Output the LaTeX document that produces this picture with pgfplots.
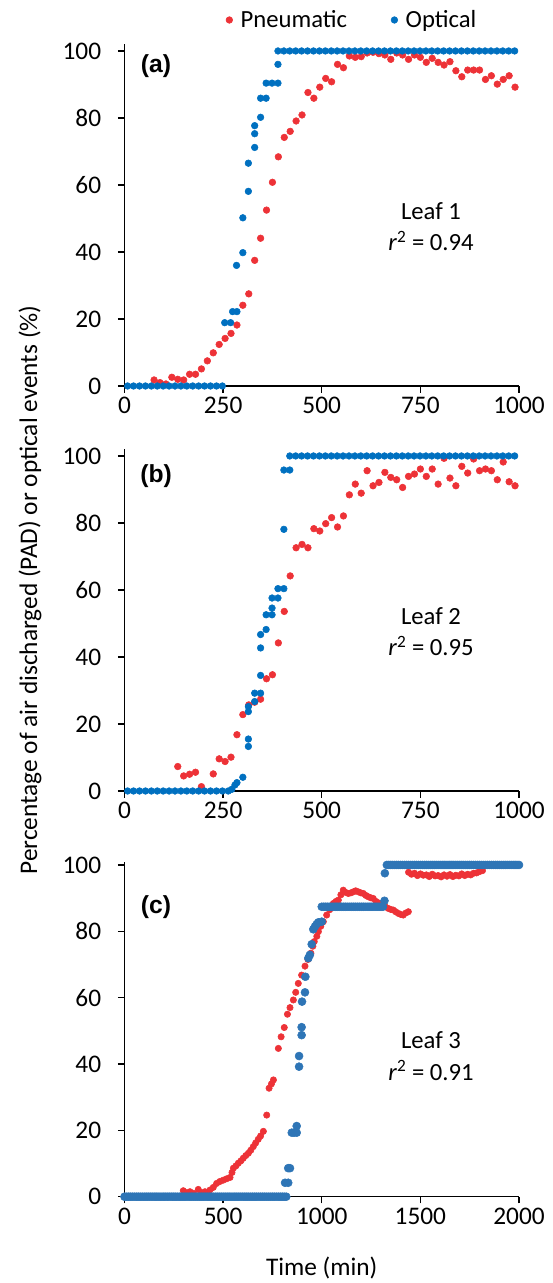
\documentclass[border=0pt]{standalone}
\usepackage{pgfplots}
\pgfplotsset{compat=1.18}
\usepackage{fontspec}
\setmainfont{Carlito}
\newfontfamily\panelfont{Liberation Sans}

\definecolor{pneu}{RGB}{237,50,55}
\definecolor{opt}{RGB}{0,112,192}
\definecolor{optc}{RGB}{46,117,182}

\newcommand{\chartfont}{\fontsize{18.5}{23.6}\selectfont}
\newcommand{\tickfont}{\fontsize{19}{23}\selectfont}

\tikzset{
  panellabel/.style={font={\fontsize{18.5}{22}\panelfont\bfseries}},
  leaflabel/.style={font=\chartfont, align=center},
}

\pgfplotsset{
  leafaxis/.style={
    scale only axis, width=295.875pt, anchor=south west,
    xmin=0, ymin=0,
    axis lines*=left, axis line style={line width=1pt,-},
    tick style={line width=1pt,black}, major tick length=5pt, tick align=outside,
    clip=false,
    ytick={0,20,...,100},
    scaled ticks=false,
    /pgf/number format/assume math mode=true,
    /pgf/number format/1000 sep={},
    tick label style={font=\tickfont},
    yticklabel style={xshift=-9pt},
  },
  pneum/.style={only marks, mark=*, mark size=2.5pt, color=pneu},
  optic/.style={only marks, mark=*, mark size=2.5pt, color=opt},
}

\begin{document}
\begin{tikzpicture}
\path[use as bounding box] (0,0) rectangle (414.75pt,962.25pt);

% ---------------- Leaf 1 ----------------
\begin{axis}[leafaxis, at={(93.375pt,672.75pt)}, height=256.3pt,
  xmax=1000, ymax=102, xtick={0,250,...,1000},
  legend style={at={(0.578,1.071)}, anchor=center, draw=none, fill=none,
    legend columns=2, font=\chartfont,
    /tikz/every even column/.append style={column sep=31pt}},
  legend image code/.code={\path[draw=none,fill=none] (0pt,0pt) -- (6.5pt,0pt);
    \draw[#1] plot coordinates {(0pt,0pt)};}]
\addplot[pneum] coordinates {
(75,1.8) (90,1.0) (105,0.6) (120,2.6) (135,2.0)
(150,1.8) (165,3.5) (180,3.5) (195,5.1) (210,7.5) (225,9.9) (240,12.4) (255,14.2)
(270,15.7) (285,18.2) (300,24.1) (315,27.5) (330,37.5) (345,44.1) (360,52.5)
(375,60.8) (390,68.4) (405,74.2) (420,76.0) (435,79.1) (450,80.9) (465,87.6)
(480,85.9) (495,89.2) (510,91.8) (525,90.8) (540,96.0) (555,95.0) (570,98.5)
(585,98.1) (600,98.3) (615,99.4) (630,99.6) (645,99.2) (660,98.8) (675,97.5)
(690,99.4) (705,98.8) (720,97.5) (735,98.8) (750,98.1) (765,96.6) (780,97.8)
(795,96.6) (810,95.8) (825,96.8) (840,94.1) (855,92.3) (870,94.3) (885,94.3)
(900,94.3) (915,91.5) (930,92.6) (945,90.1) (960,91.5) (975,92.6) (990,89.2)};
\addlegendentry{Pneumatic}
\addplot[optic] coordinates {
(8,0) (23,0) (38,0) (53,0) (68,0) (83,0) (98,0) (113,0) (128,0) (143,0) (158,0)
(173,0) (188,0) (203,0) (218,0) (233,0) (248,0) (254,18.9) (269,18.9) (274,22.2)
(285,22.2) (284,36.0) (300,39.8) (300,50.2) (314,58.1) (314,66.5) (330,71.2)
(330,75.3) (330,77.7) (345,80.2) (345,85.9) (359,85.9) (359,90.4) (374,90.4)
(389,90.4) (389,96.0) (389,100) (404,100) (419,100) (434,100) (449,100) (464,100)
(479,100) (494,100) (509,100) (524,100) (539,100) (554,100) (569,100) (584,100)
(599,100) (614,100) (629,100) (644,100) (659,100) (674,100) (689,100) (704,100)
(719,100) (734,100) (749,100) (764,100) (779,100) (794,100) (809,100) (824,100)
(839,100) (854,100) (869,100) (884,100) (899,100) (914,100) (929,100) (944,100)
(959,100) (974,100) (989,100)};
\addlegendentry{Optical}
\node[panellabel] at (axis cs:80,95.5) {(a)};
\node[leaflabel] at (axis cs:777,47.5) {Leaf 1\\\textit{r}\textsuperscript{2} = 0.94};
\end{axis}

% ---------------- Leaf 2 ----------------
\begin{axis}[leafaxis, at={(93.375pt,369pt)}, height=256.3pt,
  xmax=1000, ymax=102, xtick={0,250,...,1000}]
\addplot[pneum] coordinates {
(135,7.3)
(150,4.5) (165,5.0) (180,5.6) (195,1.3) (225,5.1) (240,9.6) (255,8.8)
(270,10.1) (285,16.8) (300,22.8) (315,25.7) (330,26.5) (345,27.4) (360,33.5)
(375,34.7) (390,44.2) (405,53.6) (420,64.2) (435,72.6) (450,73.6) (465,72.6)
(480,78.3) (495,77.6) (510,79.8) (525,81.6) (540,78.8) (555,82.1) (570,88.4)
(585,91.6) (600,88.9) (615,95.6) (630,91.1) (645,92.1) (660,95.1) (675,93.6)
(690,92.9) (705,90.6) (720,93.9) (735,94.6) (750,96.1) (765,93.9) (780,96.1)
(795,91.6) (810,99.3) (825,93.4) (840,91.1) (855,96.9) (870,94.9) (885,99.1)
(900,95.6) (915,96.1) (930,95.6) (945,92.9) (960,98.2) (975,92.3) (990,91.1)};
\addplot[optic] coordinates {
(8,0) (23,0) (38,0) (53,0) (68,0) (83,0) (98,0) (113,0) (128,0) (143,0) (158,0)
(173,0) (188,0) (203,0) (218,0) (233,0) (248,0) (263,0) (272,0.5) (280,1.8)
(285,2.5) (300,4.1) (314,13.3) (314,15.5) (314,23.7) (314,25.2) (330,26.7)
(330,29.2) (345,29.2) (345,34.5) (345,42.7) (345,46.7) (359,48.2) (359,52.6)
(374,52.6) (374,54.6) (374,57.6) (389,57.6) (389,60.4) (404,60.4) (404,78.1)
(404,95.8) (419,95.8) (419,100) (434,100) (449,100) (464,100) (479,100) (494,100)
(509,100) (524,100) (539,100) (554,100) (569,100) (584,100) (599,100) (614,100)
(629,100) (644,100) (659,100) (674,100) (689,100) (704,100) (719,100) (734,100)
(749,100) (764,100) (779,100) (794,100) (809,100) (824,100) (839,100) (854,100)
(869,100) (884,100) (899,100) (914,100) (929,100) (944,100) (959,100) (974,100)
(989,100)};
\node[panellabel] at (axis cs:80,93.9) {(b)};
\node[leaflabel] at (axis cs:777,47.5) {Leaf 2\\\textit{r}\textsuperscript{2} = 0.95};
\end{axis}

% ---------------- Leaf 3 ----------------
\begin{axis}[leafaxis, at={(93.375pt,64.725pt)}, height=251.3pt,
  xmax=2000, ymax=101, xtick={0,500,...,2000}]
\addplot[pneum, mark size=2.4pt] coordinates {
(0,0) (20,0) (40,0) (60,0) (80,0) (100,0) (120,0) (140,0) (160,0) (180,0) (200,0)
(220,0) (240,0) (260,0) (280,0) (298,1.8) (315,1.2) (332,1.5) (350,1.0) (374,2.2)
(390,1.2) (408,1.5) (420,1.0) (433,2.0) (450,2.8) (467,4.0) (484,4.6) (501,5.0)
(518,5.4) (535,5.8) (545,7.3) (552,8.6) (565,9.3) (577,10.1) (590,10.8) (602,11.6)
(615,12.4) (628,13.1) (640,14.0) (653,15.1) (665,16.2) (678,17.3) (690,18.3)
(704,19.7) (721,24.6) (733,32.7) (745,34.0) (755,35.2) (780,44.7) (794,48.2)
(810,51.0) (826,55.0) (839,57.0) (856,59.3) (868,61.6) (881,64.3) (898,66.8)
(915,69.5) (930,71.5) (945,73.4) (955,75.5) (962,76.9) (975,78.5) (983,79.9)
(995,81.5) (1008,82.9) (1025,84.9) (1040,86.5) (1059,88.4) (1072,89.0) (1084,89.4)
(1097,91.0) (1109,92.4) (1122,91.7) (1135,91.4) (1148,91.6) (1160,91.9) (1172,92.2)
(1185,91.9) (1198,91.6) (1211,91.4) (1224,90.8) (1236,90.4) (1249,90.1) (1261,89.9)
(1275,89.0) (1290,88.5) (1305,88.0) (1320,87.6) (1337,86.9) (1350,86.6) (1363,86.4)
(1375,85.9) (1388,85.4) (1400,85.1) (1413,84.9) (1426,85.5) (1439,85.9)
(1440,97.8) (1455,97.2) (1470,97.5) (1485,96.8) (1500,97.3) (1515,96.9) (1530,97.0)
(1545,96.5) (1560,97.2) (1575,96.7) (1590,96.8) (1605,96.4) (1620,97.0) (1635,96.6)
(1650,97.1) (1665,96.5) (1680,96.9) (1695,96.7) (1710,97.3) (1725,96.8) (1740,97.2)
(1755,97.0) (1770,97.5) (1785,97.6) (1800,98.0) (1815,98.3)};
\addplot[optic, color=optc, mark size=3pt] coordinates {
(0,0) (10,0) (20,0) (30,0) (40,0) (50,0) (60,0) (70,0) (80,0) (90,0) (100,0)
(110,0) (120,0) (130,0) (140,0) (150,0) (160,0) (170,0) (180,0) (190,0) (200,0)
(210,0) (220,0) (230,0) (240,0) (250,0) (260,0) (270,0) (280,0) (290,0) (300,0)
(310,0) (320,0) (330,0) (340,0) (350,0) (360,0) (370,0) (380,0) (390,0) (400,0)
(410,0) (420,0) (430,0) (440,0) (450,0) (460,0) (470,0) (480,0) (490,0) (500,0)
(510,0) (520,0) (530,0) (540,0) (550,0) (560,0) (570,0) (580,0) (590,0) (600,0)
(610,0) (620,0) (630,0) (640,0) (650,0) (660,0) (670,0) (680,0) (690,0) (700,0)
(710,0) (720,0) (730,0) (740,0) (750,0) (760,0) (770,0) (780,0) (790,0) (800,0)
(810,0) (820,0)
(814,4.2) (830,4.2) (830,8.6) (839,8.6) (848,19.3) (860,19.3) (873,19.3) (873,21.3)
(885,39.2) (885,42.4) (898,48.7) (898,51.1) (900,58.8) (915,61.6) (917,66.3)
(932,71.9) (940,72.9) (949,76.1) (957,80.6) (966,81.5) (975,82.2) (983,82.7)
(1000,82.9) (1000,87.4) (1010,87.4) (1020,87.4) (1030,87.4) (1040,87.4) (1050,87.4)
(1060,87.4) (1070,87.4) (1080,87.4) (1090,87.4) (1100,87.4) (1110,87.4) (1120,87.4)
(1130,87.4) (1140,87.4) (1150,87.4) (1160,87.4) (1170,87.4) (1180,87.4) (1190,87.4)
(1200,87.4) (1210,87.4) (1220,87.4) (1230,87.4) (1240,87.4) (1250,87.4) (1260,87.4)
(1270,87.4) (1280,87.4) (1290,87.4) (1300,87.4) (1310,87.4) (1318,89.2) (1320,97.5)
(1330,100) (1340,100) (1350,100) (1360,100) (1370,100) (1380,100) (1390,100)
(1400,100) (1410,100) (1420,100) (1430,100) (1440,100) (1450,100) (1460,100)
(1470,100) (1480,100) (1490,100) (1500,100) (1510,100) (1520,100) (1530,100)
(1540,100) (1550,100) (1560,100) (1570,100) (1580,100) (1590,100) (1600,100)
(1610,100) (1620,100) (1630,100) (1640,100) (1650,100) (1660,100) (1670,100)
(1680,100) (1690,100) (1700,100) (1710,100) (1720,100) (1730,100) (1740,100)
(1750,100) (1760,100) (1770,100) (1780,100) (1790,100) (1800,100) (1810,100)
(1820,100) (1830,100) (1840,100) (1850,100) (1860,100) (1870,100) (1880,100)
(1890,100) (1900,100) (1910,100) (1920,100) (1930,100) (1940,100) (1950,100)
(1960,100) (1970,100) (1980,100) (1990,100) (2000,100)};
\node[panellabel] at (axis cs:160,87.3) {(c)};
\node[leaflabel] at (axis cs:1554,42.4) {Leaf 3\\\textit{r}\textsuperscript{2} = 0.91};
\end{axis}

% shared axis titles
\node[font=\fontsize{19}{23}\selectfont, rotate=90] at (22.5pt,519.75pt)
  {Percentage of air discharged (PAD) or optical events (\%)};
\node[font=\fontsize{19}{23}\selectfont] at (241.3pt,11.25pt) {Time (min)};
\end{tikzpicture}
\end{document}
